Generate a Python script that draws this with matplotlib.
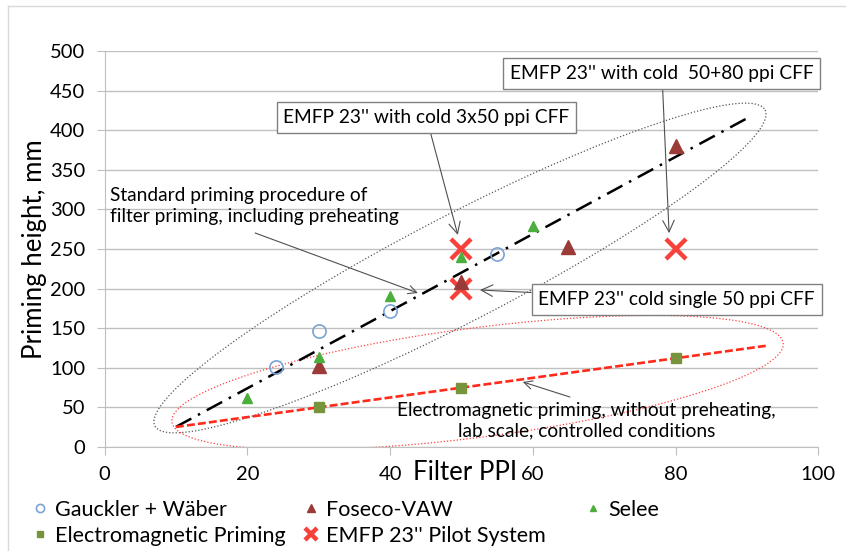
import numpy as np
import matplotlib
matplotlib.use("Agg")
import matplotlib.pyplot as plt
from matplotlib.lines import Line2D

plt.rcParams['font.family'] = ['Lato', 'DejaVu Sans']

# data
gw_ppi = [24, 30, 40, 55]
gw_h = [101, 146, 172, 244]
fos_ppi = [30, 50, 65, 80]
fos_h = [102, 208, 253, 380]
sel_ppi = [20, 30, 40, 50, 60]
sel_h = [62, 114, 191, 240, 279]
em_ppi = [30, 50, 80]
em_h = [50, 75, 112]
emfp_ppi = [50, 50, 80]
emfp_h = [250, 200, 250]

x_ticks = [0, 20, 40, 60, 80, 100]
y_ticks = [0, 50, 100, 150, 200, 250, 300, 350, 400, 450, 500]

fig = plt.figure(figsize=(8.46, 5.51), dpi=100)
ax = fig.add_axes([0.1236, 0.1888, 0.8436, 0.7186])

# frame round the chart area
fig.add_artist(Line2D([8/846, 1], [1-6/551, 1-6/551], color='#d9d9d9', lw=1))
fig.add_artist(Line2D([8/846, 8/846], [0, 1-6/551], color='#d9d9d9', lw=1))

# trend lines (linear fits)
std_x = np.array(gw_ppi + fos_ppi + sel_ppi)
std_y = np.array(gw_h + fos_h + sel_h)
k, b = np.polyfit(std_x, std_y, 1)
xs = np.array([10, 90])
ax.plot(xs, k*xs + b, color='black', lw=1.8, ls=(0, (7, 3, 1, 3)), zorder=4)

k2, b2 = np.polyfit(em_ppi, em_h, 1)
xs2 = np.array([10, 93])
ax.plot(xs2, k2*xs2 + b2, color='#ff2a1a', lw=1.9, ls=(0, (3, 1.2)), zorder=4)

# ellipses round the groups
t = np.linspace(0, 2*np.pi, 300)
def ellipse(c, u, v, color):
    ex = c[0] + u[0]*np.cos(t) + v[0]*np.sin(t)
    ey = c[1] + u[1]*np.cos(t) + v[1]*np.sin(t)
    ax.plot(ex, ey, color=color, lw=0.9, ls=(0, (1, 1.6)), zorder=3)

ellipse((49.8, 226.0), (42.75, 199.5), (3.42, -59.5), '#555555')
ellipse((52.26, 81.4), (42.82, 49.9), (0.97, -68.5), '#ff4040')

# points
ax.plot(emfp_ppi, emfp_h, ls='none', marker='x', ms=15, mew=3.2, color='#f7413a', zorder=5,
        label="EMFP 23'' Pilot System")
ax.plot(gw_ppi, gw_h, ls='none', marker='o', ms=9.5, mfc='none', mec='#7ba3d6', mew=1.2, zorder=6,
        label='Gauckler + Wäber')
ax.plot(fos_ppi, fos_h, ls='none', marker='^', ms=10, color='#9b3b38', zorder=6, label='Foseco-VAW')
ax.plot(sel_ppi, sel_h, ls='none', marker='^', ms=6.5, color='#4cae3c', zorder=6, label='Selee')
ax.plot(em_ppi, em_h, ls='none', marker='s', ms=7, color='#77933c', zorder=6,
        label='Electromagnetic Priming')

ax.set_xlim(0, 100)
ax.set_ylim(0, 500)
ax.set_xticks(x_ticks)
ax.set_yticks(y_ticks)
ax.tick_params(axis='both', labelsize=14.5, length=6, color='#bfbfbf', direction='out')
ax.tick_params(axis='x', pad=8)
ax.tick_params(axis='y', pad=8)
ax.yaxis.grid(True, color='#c0c0c0', lw=1)
ax.set_axisbelow(True)
for s in ['top', 'right']:
    ax.spines[s].set_visible(False)
for s in ['left', 'bottom']:
    ax.spines[s].set_color('#bfbfbf')

ax.set_ylabel('Priming height, mm', fontsize=18.5, labelpad=2)
ax.text(0.505, -0.065, 'Filter PPI', transform=ax.transAxes, fontsize=18.5, ha='center', va='center')

# annotations
arrow = dict(arrowstyle='->,head_length=0.6,head_width=0.3', color='#505050', lw=0.8,
             shrinkA=0, shrinkB=0)
box = dict(boxstyle='square,pad=0.35', fc='white', ec='#808080', lw=1)
fs = 13.8

ax.annotate("EMFP 23'' with cold  50+80 ppi CFF", xy=(79.1, 270), xytext=(78.1, 471.6),
            ha='center', va='center', fontsize=fs, bbox=box, arrowprops=arrow, zorder=7)
ax.annotate("EMFP 23'' with cold 3x50 ppi CFF", xy=(49.5, 267.7), xytext=(45.1, 416),
            ha='center', va='center', fontsize=fs, bbox=box, arrowprops=arrow, zorder=7)
ax.annotate("EMFP 23'' cold single 50 ppi CFF", xy=(52.6, 198.2), xytext=(80.15, 186.2),
            ha='center', va='center', fontsize=fs, bbox=box, arrowprops=arrow, zorder=7)

ax.text(0.76, 304, 'Standard priming procedure of\nfilter priming, including preheating',
        ha='left', va='center', fontsize=fs, linespacing=1.25, zorder=7)
ax.annotate('', xy=(43.9, 194.4), xytext=(21.1, 270.2), arrowprops=arrow, zorder=7)

ax.text(67.5, 33.5, 'Electromagnetic priming, without preheating,\nlab scale, controlled conditions',
        ha='center', va='center', fontsize=fs, linespacing=1.25, zorder=7)
ax.annotate('', xy=(58.6, 82.1), xytext=(65.2, 63.1), arrowprops=arrow, zorder=7)

# legend
h, l = ax.get_legend_handles_labels()
hd = dict(zip(l, h))
order = ['Gauckler + Wäber', 'Electromagnetic Priming', 'Foseco-VAW', "EMFP 23'' Pilot System"]
leg1 = fig.legend([hd[n] for n in order], order, ncol=2, loc='upper left',
                  bbox_to_anchor=(21/846, 1-489/551), frameon=False, fontsize=15.5,
                  handlelength=0.8, handletextpad=0.3, columnspacing=0.75,
                  labelspacing=0.28, markerscale=0.62, borderpad=0)
leg2 = fig.legend([hd['Selee']], ['Selee'], loc='upper left',
                  bbox_to_anchor=(574/846, 1-489/551), frameon=False, fontsize=15.5,
                  handlelength=0.8, handletextpad=0.3, markerscale=0.62, borderpad=0)

fig.savefig('out.png', dpi=100)
